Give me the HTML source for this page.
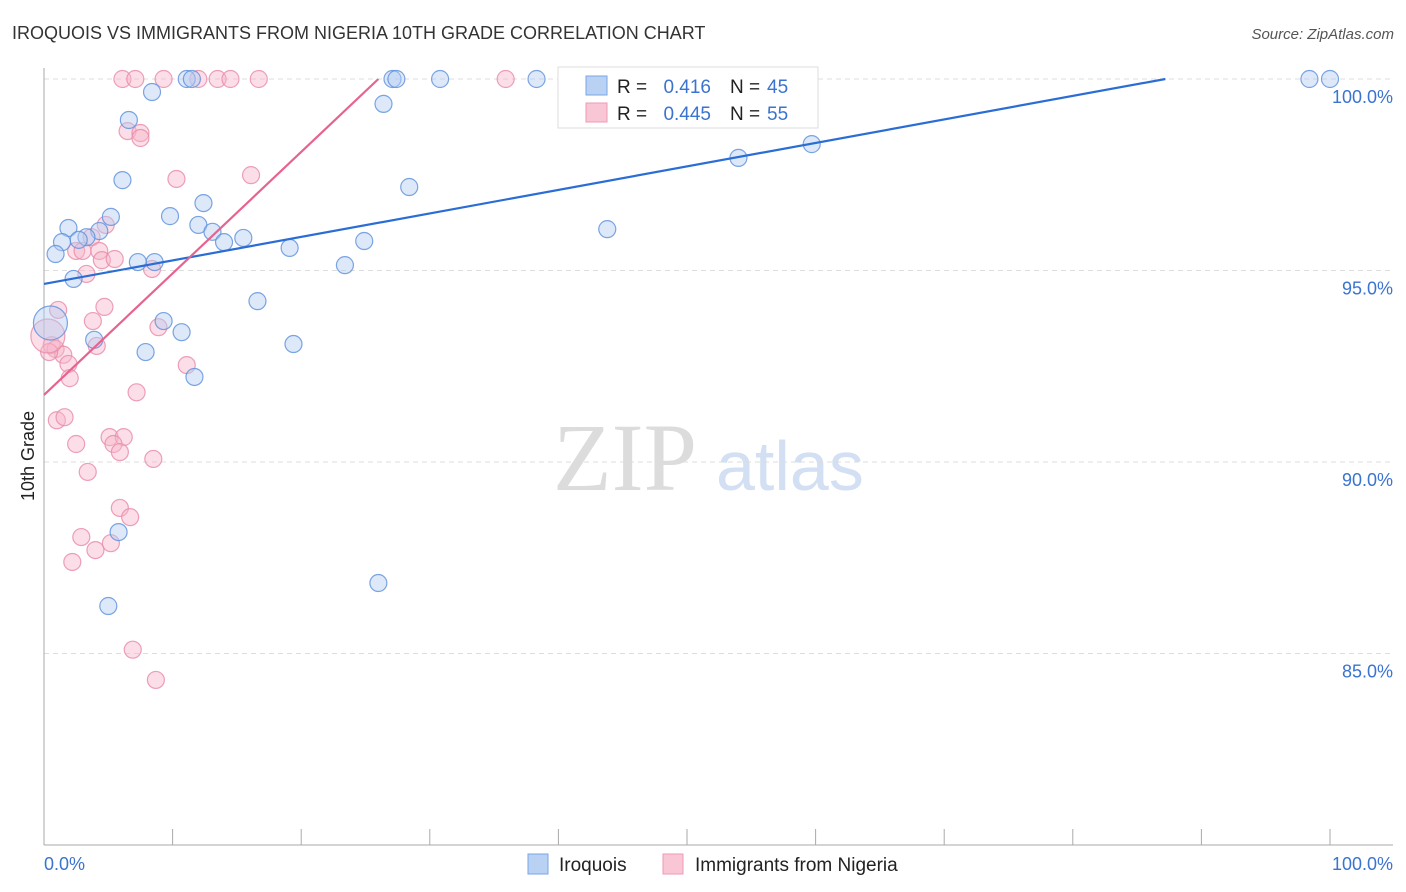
<!DOCTYPE html>
<html><head><meta charset="utf-8"><style>
body{margin:0;background:#fff;font-family:"Liberation Sans",sans-serif;}
svg{display:block}
</style></head><body>
<svg id="chart" width="1406" height="892">
<text x="12" y="39" font-size="18" fill="#333">IROQUOIS VS IMMIGRANTS FROM NIGERIA 10TH GRADE CORRELATION CHART</text>
<text x="1394" y="39" font-size="15" fill="#555" font-style="italic" text-anchor="end">Source: ZipAtlas.com</text>
<g>
<text x="553" y="490" font-size="96" font-family="Liberation Serif,serif" fill="#dcdcdc">ZIP</text>
<text x="716" y="490" font-size="70" fill="#d3e0f3">atlas</text>
</g>
<g id="grid"></g>
<g id="axes"></g>
<g id="pts"></g>
<g id="lines"></g>
<text transform="translate(34,456) rotate(-90)" font-size="18" fill="#222" text-anchor="middle">10th Grade</text>
<text x="44" y="870" font-size="18" fill="#3a73d0">0.0%</text>
<text x="1393" y="870" font-size="18" fill="#3a73d0" text-anchor="end">100.0%</text>
<g>
<rect x="558" y="67" width="260" height="61" fill="#fff" stroke="#ddd"/>
<rect x="586" y="76" width="21" height="19" fill="#b9d1f3" stroke="#7aa6e6"/>
<rect x="586" y="103" width="21" height="19" fill="#f9c6d5" stroke="#ef9ab4"/>
<text x="617" y="93" font-size="19" fill="#222">R =</text>
<text x="711" y="93" font-size="19" fill="#3a73d0" text-anchor="end">0.416</text>
<text x="730" y="93" font-size="19" fill="#222">N =</text>
<text x="767" y="93" font-size="19" fill="#3a73d0">45</text>
<text x="617" y="120" font-size="19" fill="#222">R =</text>
<text x="711" y="120" font-size="19" fill="#3a73d0" text-anchor="end">0.445</text>
<text x="730" y="120" font-size="19" fill="#222">N =</text>
<text x="767" y="120" font-size="19" fill="#3a73d0">55</text>
</g>
<g>
<rect x="528" y="854" width="20" height="20" fill="#b9d1f3" stroke="#7aa6e6"/>
<text x="559" y="871" font-size="19" fill="#222">Iroquois</text>
<rect x="663" y="854" width="20" height="20" fill="#f9c6d5" stroke="#ef9ab4"/>
<text x="695" y="871" font-size="19" fill="#222">Immigrants from Nigeria</text>
</g>
</svg>
<script>
const yTicks=[85,90,95,100];
const yTickLabels=["85.0%","90.0%","95.0%","100.0%"];
const iroX=[11.1,11.5,27.1,27.4,30.8,38.3,98.4,100,8.4,26.4,6.6,59.7,54,6.1,28.4,12.4,5.2,9.8,12,1.9,13.1,43.8,4.3,3.3,2.7,15.5,1.4,14,24.9,19.1,0.9,7.3,8.6,23.4,2.3,16.6,9.3,10.7,3.9,19.4,7.9,11.7,5.8,5,26,0.5];
const iroY=[100,100,100,100,100,100,100,100,99.66,99.35,98.93,98.30,97.94,97.36,97.18,96.76,96.40,96.42,96.19,96.11,96.01,96.08,96.03,95.87,95.80,95.85,95.74,95.74,95.77,95.59,95.43,95.22,95.22,95.14,94.78,94.20,93.68,93.39,93.19,93.08,92.87,92.22,88.17,86.24,86.84,93.63];
const nigX=[6.1,7.1,9.3,12,13.5,14.5,16.7,35.9,6.5,7.5,7.5,16.1,10.3,4.8,3.7,2.5,3,4.3,4.5,5.5,8.4,3.3,4.7,1.1,3.8,8.9,0.6,4.1,0.9,1.5,0.4,1.9,11.1,2,7.2,1,1.6,2.5,5.1,6.2,5.4,5.9,8.5,3.4,5.9,6.7,2.9,5.2,4,2.2,6.9,8.7,0.3];
const nigY=[100,100,100,100,100,100,100,100,98.64,98.59,98.46,97.49,97.39,96.19,95.87,95.51,95.51,95.51,95.27,95.3,95.04,94.91,94.05,93.97,93.68,93.52,93.05,93.03,92.95,92.8,92.87,92.56,92.53,92.19,91.82,91.09,91.17,90.47,90.65,90.65,90.47,90.26,90.08,89.74,88.8,88.56,88.04,87.88,87.7,87.39,85.1,84.31,93.29];
const iroLine=[0,94.65,87.2,100];
const nigLine=[0,91.75,26,100];
const ns="http://www.w3.org/2000/svg";
const X=v=>44+v*12.86, Y=v=>79+(100-v)*38.3;
function mk(t,a,p){const e=document.createElementNS(ns,t);for(const k in a)e.setAttribute(k,a[k]);p.appendChild(e);return e;}
const grid=document.getElementById('grid'),axes=document.getElementById('axes'),pts=document.getElementById('pts'),lines=document.getElementById('lines');
yTicks.forEach((t,i)=>{
 const l=mk('line',{x1:44,x2:1393,y1:Y(t),y2:Y(t),stroke:'#ddd','stroke-dasharray':'5,4'},grid);
 
 
 const tx=mk('text',{x:1393,y:Y(t)+24,'font-size':18,fill:'#3a73d0','text-anchor':'end'},axes);
 tx.textContent=yTickLabels[i];
 
 
});
mk('line',{x1:44,x2:44,y1:68,y2:845,stroke:'#aaa'},axes);
mk('line',{x1:44,x2:1393,y1:845,y2:845,stroke:'#aaa'},axes);
for(let i=0;i<=10;i++){const tk=mk('line',{x1:X(i*10),x2:X(i*10),y1:829,y2:845,stroke:'#aaa'},axes);
 
 }
function dots(xs,ys,fill,stroke,name){xs.forEach((x,i)=>{const big=i===xs.length-1;
 const c=mk('circle',{cx:X(x),cy:Y(ys[i]),r:big?17:8.5,fill:fill,'fill-opacity':0.45,stroke:stroke,'stroke-opacity':0.8,'stroke-width':1.2},pts);
 
 });}
dots(nigX,nigY,'#f7b6ca','#e889a8','nigeria-point');
dots(iroX,iroY,'#b3cdf2','#5b8fdc','iroquois-point');
function ln(a,col,name){const l=mk('line',{x1:X(a[0]),y1:Y(a[1]),x2:X(a[2]),y2:Y(a[3]),stroke:col,'stroke-width':2.2},lines);
 
 }
ln(iroLine,'#2a6dd4','iroquois-trendline');
ln(nigLine,'#e7638f','nigeria-trendline');
</script>
</body></html>
